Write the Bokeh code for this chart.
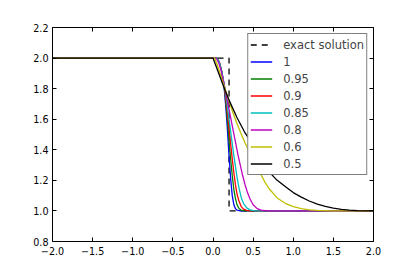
from bokeh.plotting import figure
from bokeh.models import Range1d, LinearAxis, FixedTicker, Legend, LegendItem
from bokeh.embed import file_html
from bokeh.resources import INLINE

# ---- data ----
x_ticks = [-2.0, -1.5, -1.0, -0.5, 0.0, 0.5, 1.0, 1.5, 2.0]
x_tick_labels = ["−2.0", "−1.5", "−1.0", "−0.5", "0.0", "0.5", "1.0", "1.5", "2.0"]
y_ticks = [0.8, 1.0, 1.2, 1.4, 1.6, 1.8, 2.0, 2.2]
y_tick_labels = ["0.8", "1.0", "1.2", "1.4", "1.6", "1.8", "2.0", "2.2"]

exact_x = [-2.0, 0.2, 0.2, 2.0]
exact_y = [2.0, 2.0, 1.0, 1.0]

x_100 = [-2.0, 0.05, 0.08, 0.11, 0.14, 0.16, 0.18, 0.20, 0.22, 0.24, 0.26, 0.28, 0.30, 0.34, 2.0]
y_100 = [2.0, 2.0, 1.97, 1.91, 1.80, 1.68, 1.53, 1.36, 1.21, 1.10, 1.04, 1.015, 1.005, 1.0, 1.0]

x_095 = [-2.0, 0.05, 0.08, 0.11, 0.14, 0.16, 0.18, 0.20, 0.22, 0.24, 0.26, 0.28, 0.30, 0.32, 0.35, 0.40, 2.0]
y_095 = [2.0, 2.0, 1.97, 1.91, 1.81, 1.71, 1.59, 1.46, 1.34, 1.23, 1.14, 1.08, 1.04, 1.02, 1.005, 1.0, 1.0]

x_090 = [-2.0, 0.05, 0.08, 0.11, 0.14, 0.16, 0.18, 0.20, 0.22, 0.24, 0.26, 0.28, 0.30, 0.32, 0.35, 0.38, 0.42, 0.46, 2.0]
y_090 = [2.0, 2.0, 1.97, 1.91, 1.82, 1.74, 1.64, 1.54, 1.44, 1.34, 1.25, 1.17, 1.11, 1.07, 1.03, 1.012, 1.003, 1.0, 1.0]

x_085 = [-2.0, 0.05, 0.08, 0.11, 0.14, 0.16, 0.18, 0.20, 0.22, 0.24, 0.26, 0.28, 0.30, 0.32, 0.35, 0.38, 0.42, 0.46, 0.52, 2.0]
y_085 = [2.0, 2.0, 1.97, 1.91, 1.83, 1.76, 1.68, 1.60, 1.52, 1.44, 1.36, 1.29, 1.22, 1.16, 1.09, 1.05, 1.02, 1.007, 1.0, 1.0]

x_080 = [-2.0, 0.04, 0.07, 0.10, 0.13, 0.16, 0.19, 0.22, 0.25, 0.28, 0.31, 0.34, 0.37, 0.40, 0.43, 0.46, 0.50, 0.55, 0.60, 0.68, 2.0]
y_080 = [2.0, 2.0, 1.97, 1.92, 1.85, 1.77, 1.69, 1.61, 1.53, 1.45, 1.37, 1.30, 1.23, 1.17, 1.12, 1.08, 1.04, 1.015, 1.005, 1.0, 1.0]

x_060 = [-2.0, 0.02, 0.05, 0.10, 0.15, 0.20, 0.25, 0.30, 0.35, 0.40, 0.45, 0.50, 0.55, 0.60, 0.65, 0.70, 0.80, 0.90, 1.00, 1.10, 1.20, 1.30, 1.45, 2.0]
y_060 = [2.0, 2.0, 1.96, 1.88, 1.80, 1.72, 1.64, 1.57, 1.505, 1.445, 1.39, 1.335, 1.285, 1.235, 1.185, 1.145, 1.085, 1.05, 1.028, 1.015, 1.007, 1.003, 1.0, 1.0]

x_050 = [-2.0, 0.0, 0.05, 0.10, 0.15, 0.20, 0.30, 0.40, 0.50, 0.60, 0.70, 0.80, 0.90, 1.00, 1.10, 1.20, 1.30, 1.40, 1.50, 1.60, 1.70, 1.80, 2.0]
y_050 = [2.0, 2.0, 1.93, 1.86, 1.79, 1.725, 1.61, 1.51, 1.43, 1.335, 1.255, 1.20, 1.16, 1.12, 1.09, 1.065, 1.045, 1.03, 1.018, 1.01, 1.005, 1.002, 1.0]

series = [
    ("1", x_100, y_100, "#0000ff"),
    ("0.95", x_095, y_095, "#008000"),
    ("0.9", x_090, y_090, "#ff0000"),
    ("0.85", x_085, y_085, "#00bfbf"),
    ("0.8", x_080, y_080, "#bf00bf"),
    ("0.6", x_060, y_060, "#bfbf00"),
    ("0.5", x_050, y_050, "#000000"),
]

# ---- figure ----
p = figure(width=407, height=269, x_range=Range1d(-2.0, 2.0), y_range=Range1d(0.8, 2.2),
           output_backend="svg", toolbar_location=None,
           min_border_left=52, min_border_right=34, min_border_top=27, min_border_bottom=28)
p.xgrid.visible = False
p.ygrid.visible = False
p.outline_line_color = None
p.background_fill_color = "white"
p.border_fill_color = "white"

p.add_layout(LinearAxis(), "above")
p.add_layout(LinearAxis(), "right")


def style_axis(ax, ticks, labels, show):
    ax.ticker = FixedTicker(ticks=ticks)
    ax.major_label_overrides = {t: (l if show else "") for t, l in zip(ticks, labels)}
    ax.major_tick_in = 4
    ax.major_tick_out = 0
    ax.minor_tick_line_color = None
    ax.axis_line_color = "black"
    ax.axis_line_width = 1
    ax.major_tick_line_color = "black"
    ax.major_label_text_font = "DejaVu Sans"
    ax.major_label_text_font_size = "9.6px"
    ax.major_label_text_color = "black"
    ax.major_label_standoff = 4


style_axis(p.below[0], x_ticks, x_tick_labels, True)
style_axis(p.left[0], y_ticks, y_tick_labels, True)
style_axis(p.above[0], x_ticks, x_tick_labels, False)
style_axis(p.right[0], y_ticks, y_tick_labels, False)
p.below[0].major_label_standoff = 5

items = []
r_exact = p.line(exact_x, exact_y, line_color="black", line_width=1.3, line_dash="6 5")
items.append(LegendItem(label="exact solution", renderers=[r_exact]))
for name, xs, ys, col in series:
    r = p.line(xs, ys, line_color=col, line_width=1.3)
    items.append(LegendItem(label=name, renderers=[r]))

legend = Legend(items=items, location="top_right", margin=6, padding=2, spacing=0,
                glyph_width=22, glyph_height=17, label_height=17, label_standoff=11,
                label_text_font="DejaVu Sans", label_text_font_size="11.5px",
                border_line_color="black", border_line_width=1,
                background_fill_color="white", background_fill_alpha=1.0)
p.add_layout(legend)

open("out.html", "w").write(file_html(p, INLINE))
